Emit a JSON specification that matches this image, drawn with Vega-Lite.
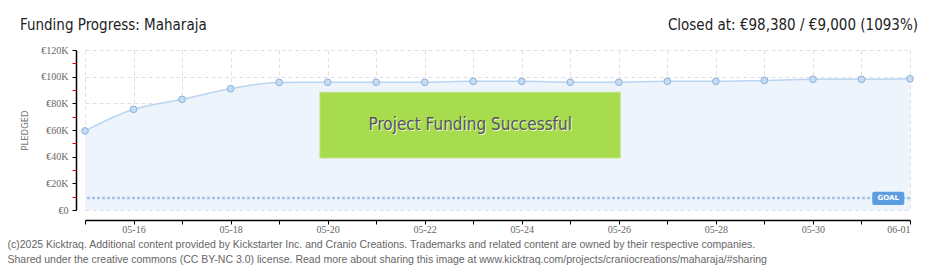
{
  "$schema": "https://vega.github.io/schema/vega-lite/v6.json",
  "width": 825,
  "height": 160,
  "autosize": {"type": "none"},
  "padding": {"left": 85, "top": 50, "right": 30, "bottom": 60},
  "background": "white",
  "data": {"values": [{"one": 1}]},
  "config": {
    "view": {"stroke": null},
    "axis": {"labelFont": "Liberation Sans Narrow", "labelFontSize": 10, "labelColor": "#666"}
  },
  "datasets": {
    "pledged": [
      {"date": "2025-05-15", "amount": 59300},
      {"date": "2025-05-16", "amount": 75500},
      {"date": "2025-05-17", "amount": 83000},
      {"date": "2025-05-18", "amount": 91000},
      {"date": "2025-05-19", "amount": 95700},
      {"date": "2025-05-20", "amount": 95800},
      {"date": "2025-05-21", "amount": 95800},
      {"date": "2025-05-22", "amount": 95800},
      {"date": "2025-05-23", "amount": 96500},
      {"date": "2025-05-24", "amount": 96500},
      {"date": "2025-05-25", "amount": 95800},
      {"date": "2025-05-26", "amount": 95800},
      {"date": "2025-05-27", "amount": 96500},
      {"date": "2025-05-28", "amount": 96500},
      {"date": "2025-05-29", "amount": 97200},
      {"date": "2025-05-30", "amount": 98000},
      {"date": "2025-05-31", "amount": 98000},
      {"date": "2025-06-01", "amount": 98380}
    ]
  },
  "resolve": {"axis": {"y": "independent"}},
  "layer": [
    {
      "data": {"name": "pledged"},
      "mark": {"type": "area", "color": "#edf4fc", "interpolate": "monotone"},
      "encoding": {
        "x": {
          "field": "date", "type": "temporal",
          "scale": {"type": "utc", "domain": [{"year": 2025, "month": 5, "date": 15, "utc": true}, {"year": 2025, "month": 6, "date": 1, "utc": true}]},
          "axis": {
            "title": ["(c)2025 Kicktraq. Additional content provided by Kickstarter Inc. and Cranio Creations. Trademarks and related content are owned by their respective companies.", "Shared under the creative commons (CC BY-NC 3.0) license. Read more about sharing this image at www.kicktraq.com/projects/craniocreations/maharaja/#sharing"],
            "titleFont": "Liberation Sans", "titleFontSize": 10.5, "titleFontWeight": "normal", "titleColor": "#666",
            "titleAlign": "left", "titleAnchor": "start", "titleX": -78, "titleY": 27, "titleBaseline": "alphabetic", "titleLineHeight": 15,
            "offset": 10, "domainColor": "#000", "domainWidth": 1.5, "tickColor": "#000", "tickSize": 4,
            "values": [
              {"year": 2025, "month": 5, "date": 15, "utc": true}, {"year": 2025, "month": 5, "date": 16, "utc": true},
              {"year": 2025, "month": 5, "date": 17, "utc": true}, {"year": 2025, "month": 5, "date": 18, "utc": true},
              {"year": 2025, "month": 5, "date": 19, "utc": true}, {"year": 2025, "month": 5, "date": 20, "utc": true},
              {"year": 2025, "month": 5, "date": 21, "utc": true}, {"year": 2025, "month": 5, "date": 22, "utc": true},
              {"year": 2025, "month": 5, "date": 23, "utc": true}, {"year": 2025, "month": 5, "date": 24, "utc": true},
              {"year": 2025, "month": 5, "date": 25, "utc": true}, {"year": 2025, "month": 5, "date": 26, "utc": true},
              {"year": 2025, "month": 5, "date": 27, "utc": true}, {"year": 2025, "month": 5, "date": 28, "utc": true},
              {"year": 2025, "month": 5, "date": 29, "utc": true}, {"year": 2025, "month": 5, "date": 30, "utc": true},
              {"year": 2025, "month": 5, "date": 31, "utc": true}, {"year": 2025, "month": 6, "date": 1, "utc": true}
            ],
            "labelExpr": "round((datum.value - utc(2025,4,15))/86400000) % 2 == 1 ? utcFormat(datum.value, '%m-%d') : ''",
            "labelPadding": 0,
            "grid": true, "gridColor": "#e0e0e0", "gridDash": [4, 3]
          }
        },
        "y": {
          "field": "amount", "type": "quantitative",
          "scale": {"domain": [0, 120000], "nice": false},
          "axis": {
            "title": "PLEDGED", "titleFont": "DejaVu Sans", "titleFontSize": 8.5, "titleFontWeight": "normal", "titleColor": "#777", "titlePadding": 11,
            "values": [0, 20000, 40000, 60000, 80000, 100000, 120000],
            "labelExpr": "datum.value == 0 ? '€0' : '€' + datum.value/1000 + 'K'",
            "offset": 9, "domainColor": "#000", "domainWidth": 1.5, "tickColor": "#000", "tickSize": 4, "labelPadding": 4,
            "grid": true, "gridColor": "#e0e0e0", "gridDash": [4, 3]
          }
        }
      }
    },
    {
      "data": {"name": "pledged"},
      "mark": {"type": "line", "color": "#b9d5f2", "strokeWidth": 1.5, "interpolate": "monotone"},
      "encoding": {
        "x": {"field": "date", "type": "temporal"},
        "y": {"field": "amount", "type": "quantitative", "axis": null}
      }
    },
    {
      "data": {"name": "pledged"},
      "mark": {"type": "point", "filled": true, "fill": "#c4ddf6", "stroke": "#8fb0d6", "strokeWidth": 1, "size": 45, "opacity": 1},
      "encoding": {
        "x": {"field": "date", "type": "temporal"},
        "y": {"field": "amount", "type": "quantitative", "axis": null}
      }
    },
    {
      "mark": {"type": "rule", "color": "#a5c4e8", "strokeWidth": 2.5, "strokeDash": [3, 2]},
      "encoding": {
        "y": {"datum": 9000, "type": "quantitative", "axis": null}
      }
    },
    {
      "mark": {"type": "rect", "color": "#a6dc4e", "stroke": "#c2e48a", "strokeWidth": 1},
      "encoding": {
        "x": {"datum": {"year": 2025, "month": 5, "date": 19, "hours": 20, "minutes": 10, "utc": true}, "type": "temporal"},
        "x2": {"datum": {"year": 2025, "month": 5, "date": 26, "hours": 0, "minutes": 45, "utc": true}},
        "y": {"datum": 88300, "type": "quantitative", "axis": null},
        "y2": {"datum": 39000}
      }
    },
    {
      "mark": {"type": "text", "text": "Project Funding Successful", "font": "DejaVu Sans Condensed", "fontSize": 17, "color": "#ffffff", "dx": 1, "dy": 1, "opacity": 0.8},
      "encoding": {
        "x": {"datum": {"year": 2025, "month": 5, "date": 22, "hours": 22, "minutes": 30, "utc": true}, "type": "temporal"},
        "y": {"datum": 63600, "type": "quantitative", "axis": null}
      }
    },
    {
      "mark": {"type": "text", "text": "Project Funding Successful", "font": "DejaVu Sans Condensed", "fontSize": 17, "color": "#555555"},
      "encoding": {
        "x": {"datum": {"year": 2025, "month": 5, "date": 22, "hours": 22, "minutes": 30, "utc": true}, "type": "temporal"},
        "y": {"datum": 63600, "type": "quantitative", "axis": null}
      }
    },
    {
      "mark": {"type": "rect", "color": "#5c9ce0", "cornerRadius": 2},
      "encoding": {
        "x": {"datum": {"year": 2025, "month": 5, "date": 31, "hours": 5, "minutes": 20, "utc": true}, "type": "temporal"},
        "x2": {"datum": {"year": 2025, "month": 5, "date": 31, "hours": 21, "minutes": 10, "utc": true}},
        "y": {"datum": 13700, "type": "quantitative", "axis": null},
        "y2": {"datum": 3800}
      }
    },
    {
      "mark": {"type": "text", "text": "GOAL", "font": "DejaVu Sans", "fontSize": 7, "fontWeight": "bold", "color": "#ffffff"},
      "encoding": {
        "x": {"datum": {"year": 2025, "month": 5, "date": 31, "hours": 13, "minutes": 15, "utc": true}, "type": "temporal"},
        "y": {"datum": 9000, "type": "quantitative", "axis": null}
      }
    },
    {
      "mark": {"type": "text", "text": "Funding Progress: Maharaja", "font": "DejaVu Sans Condensed", "fontSize": 15, "color": "#222", "align": "left", "baseline": "alphabetic", "dx": -65, "dy": -20},
      "encoding": {
        "x": {"datum": {"year": 2025, "month": 5, "date": 15, "utc": true}, "type": "temporal"},
        "y": {"datum": 120000, "type": "quantitative", "axis": null}
      }
    },
    {
      "mark": {"type": "text", "text": "Closed at:  €98,380 /  €9,000 (1093%)", "font": "DejaVu Sans Condensed", "fontSize": 15, "color": "#222", "align": "right", "baseline": "alphabetic", "dx": 8, "dy": -20},
      "encoding": {
        "x": {"datum": {"year": 2025, "month": 6, "date": 1, "utc": true}, "type": "temporal"},
        "y": {"datum": 120000, "type": "quantitative", "axis": null}
      }
    },
    {
      "data": {"values": [{"v": 10000}, {"v": 30000}, {"v": 50000}, {"v": 70000}, {"v": 90000}, {"v": 110000}]},
      "mark": {"type": "tick", "opacity": 0},
      "encoding": {
        "y": {
          "field": "v", "type": "quantitative",
          "axis": {"orient": "left", "offset": 9, "values": [10000, 30000, 50000, 70000, 90000, 110000], "labels": false, "domain": false, "grid": false, "tickColor": "#e00000", "tickSize": 4, "title": null}
        }
      }
    }
  ]
}
